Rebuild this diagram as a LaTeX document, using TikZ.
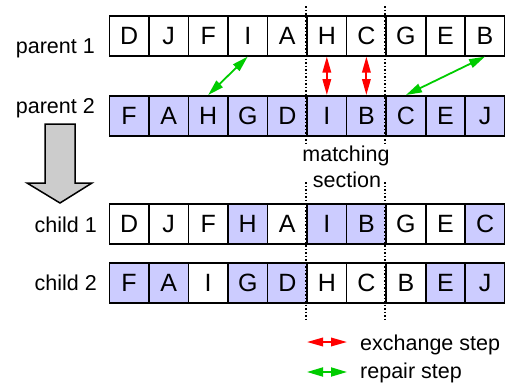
\documentclass[tikz,border=0pt]{standalone}
\usepackage{fontspec}
\setmainfont{Liberation Sans}
\usetikzlibrary{arrows.meta}
\definecolor{genefill}{HTML}{CCCCFF}
\definecolor{arrowgray}{HTML}{CCCCCC}
\definecolor{repairgreen}{HTML}{00CC00}
\definecolor{exchred}{HTML}{FF0000}
\begin{document}
\begin{tikzpicture}[x=1pt,y=-1pt,
  gene/.style={draw=black,line width=1.6pt,minimum width=39.55pt,minimum height=40pt,
    inner sep=0pt,font=\fontsize{25}{25}\selectfont,anchor=north west},
  light/.style={gene,fill=white},
  shaded/.style={gene,fill=genefill},
  rowlabel/.style={anchor=base east,inner sep=0pt,font=\fontsize{21.5}{21.5}\selectfont},
  caption/.style={inner sep=0pt,font=\fontsize{21.5}{21.5}\selectfont},
  exchange/.style={exchred,line width=1.8pt,{Triangle[length=16pt,width=8.5pt]}-{Triangle[length=16pt,width=8.5pt]}},
  repair/.style={repairgreen,line width=1.8pt,{Triangle[length=16pt,width=9pt]}-{Triangle[length=16pt,width=9pt]}},
  section/.style={line width=1.5pt,dash pattern=on 1.5pt off 2pt}]
\useasboundingbox (0,0) rectangle (505,383);

% chromosome rows: name / top edge / genes / shading
\foreach \row/\top/\genes/\fills in {
  pa/15/{D,J,F,I,A,H,C,G,E,B}/{0,0,0,0,0,0,0,0,0,0},
  pb/95/{F,A,H,G,D,I,B,C,E,J}/{1,1,1,1,1,1,1,1,1,1},
  ca/203/{D,J,F,H,A,I,B,G,E,C}/{0,0,0,1,0,1,1,0,0,1},
  cb/262/{F,A,I,G,D,H,C,B,E,J}/{1,1,0,1,1,0,0,0,1,1}} {
  \foreach \g [count=\i] in \genes {
    \pgfmathsetmacro{\shade}{{\fills}[\i-1]}
    \ifdim\shade pt>0.5pt
      \node[shaded] (\row-\i) at ({108.5+(\i-1)*39.55},\top) {\g};
    \else
      \node[light] (\row-\i) at ({108.5+(\i-1)*39.55},\top) {\g};
    \fi
  }
}

% row labels
\node[rowlabel] (lpa) at (95,53) {parent 1};
\node[rowlabel] (lpb) at (95,113) {parent 2};
\node[rowlabel] (lca) at (97,232) {child 1};
\node[rowlabel] (lcb) at (97,290) {child 2};

% matching section boundaries
\coordinate (sl1) at (306,6);   \coordinate (sl2) at (306,143);
\coordinate (sl3) at (306,182); \coordinate (sl4) at (306,322);
\coordinate (sr1) at (385,6);   \coordinate (sr2) at (385,143);
\coordinate (sr3) at (385,182); \coordinate (sr4) at (385,322);
\draw[section] (sl1) -- (sl2) (sl3) -- (sl4);
\draw[section] (sr1) -- (sr2) (sr3) -- (sr4);
\node[caption,anchor=base] (msa) at (346,161) {matching};
\node[caption,anchor=base] (msb) at (347,187) {section};

% big transition arrow
\draw[line width=1.5pt,fill=arrowgray,line join=miter]
  (45,124) -- (75,124) -- (75,183) -- (92,183) -- (60,203) -- (27,183) -- (45,183) -- cycle;

% exchange and repair steps
\draw[exchange] (pa-6.south) -- (pb-6.north);
\draw[exchange] (pa-7.south) -- (pb-7.north);
\draw[repair] (pa-4.south) -- (pb-3.north);
\draw[repair] (pa-10.south) -- (pb-8.north);

% legend
\coordinate (ea) at (307,342); \coordinate (eb) at (347,342);
\coordinate (ra) at (307,372); \coordinate (rb) at (347,372);
\draw[exchange] (ea) -- (eb);
\draw[repair] (ra) -- (rb);
\node[caption,anchor=base west] (lex) at (360,350) {exchange step};
\node[caption,anchor=base west] (lre) at (360,378) {repair step};
\end{tikzpicture}
\end{document}
